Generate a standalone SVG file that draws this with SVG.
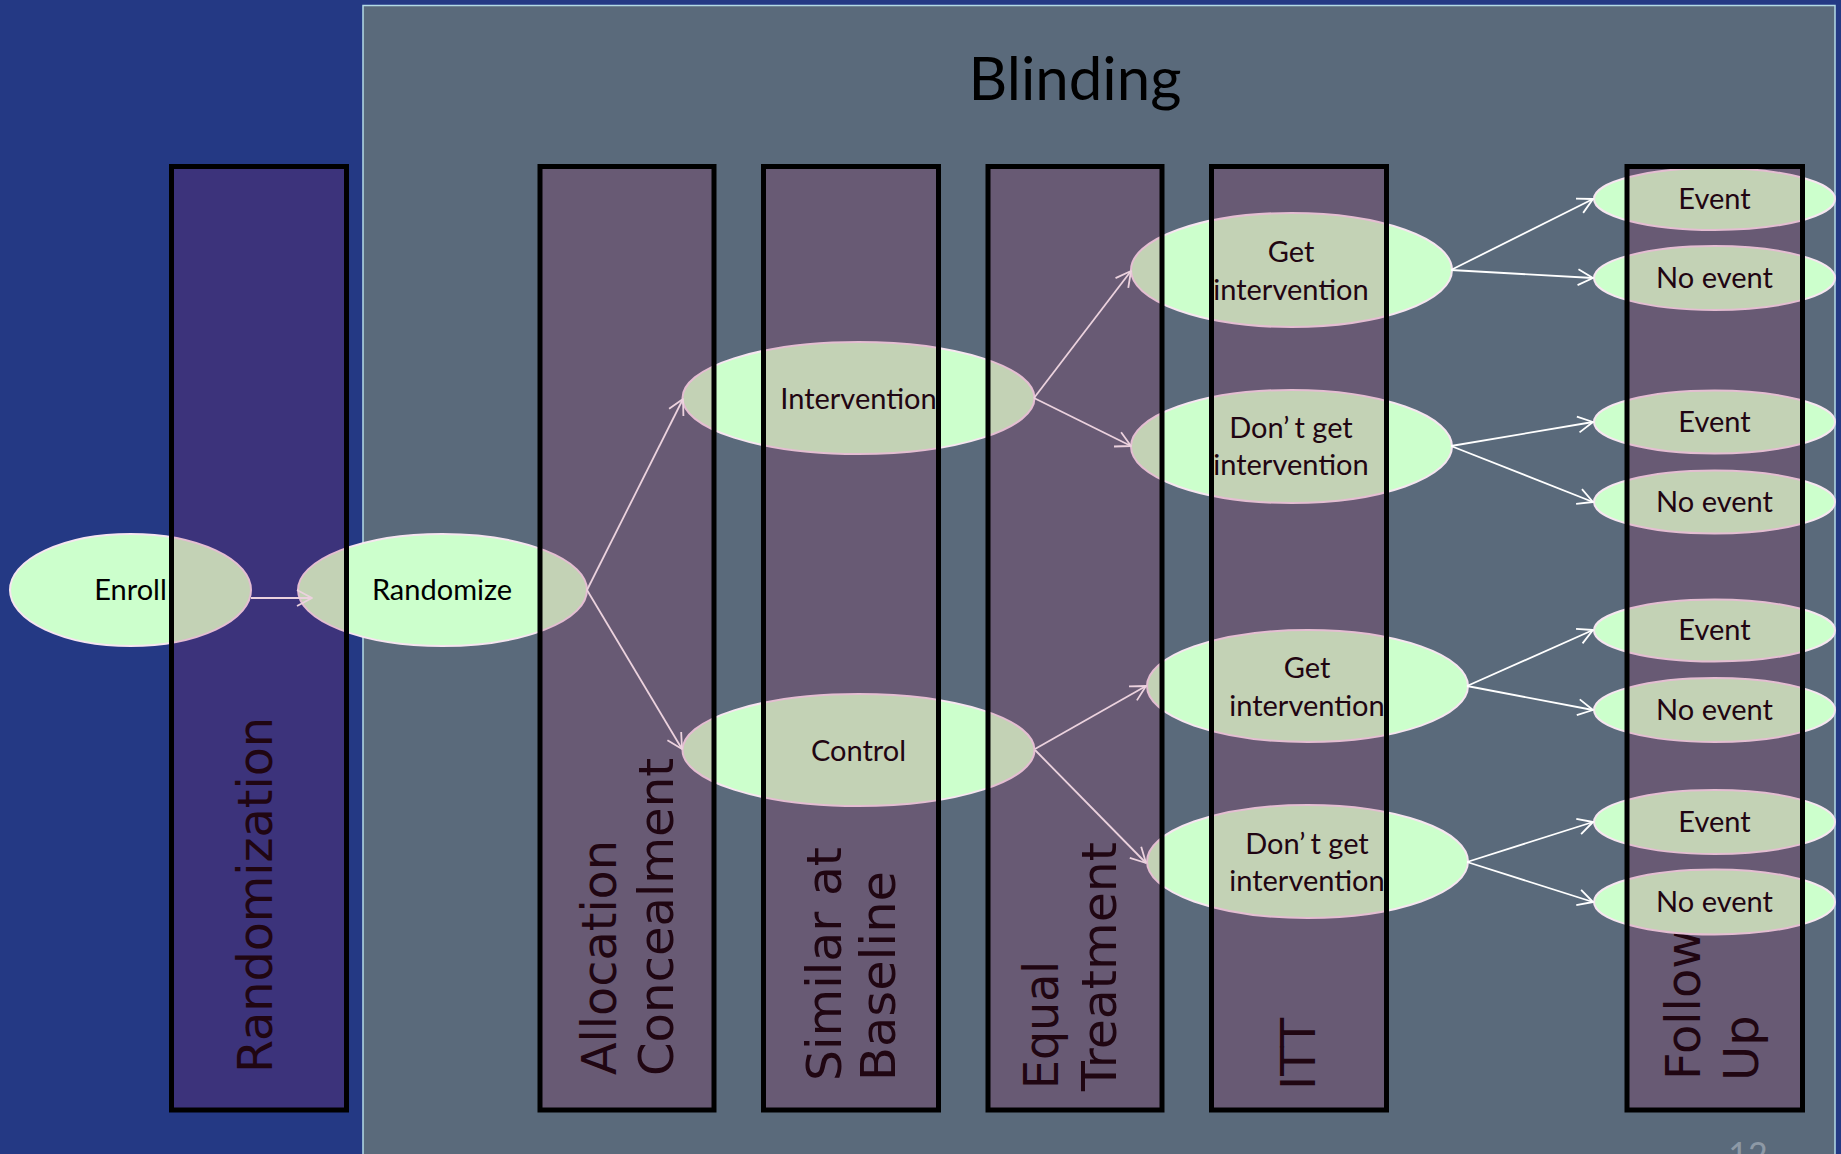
<svg xmlns="http://www.w3.org/2000/svg" width="1841" height="1154" viewBox="0 0 1841 1154">
  <defs>
    <style>
      .lbl { font-family: "DejaVu Sans", Verdana, sans-serif; font-size: 48px; fill: #000; }
      .node ellipse { fill: #ccffcc; stroke: #f6e6f0; stroke-width: 2; }
      .node text { font-family: Lato, "Open Sans", sans-serif; font-size: 29px; fill: #000; text-anchor: middle; }
      .frame { fill: #a11f5c; fill-opacity: 0.2; stroke: #000; stroke-width: 5; }
      .conn path { fill: none; stroke: #ffffff; stroke-width: 1.8; marker-end: url(#arr); }
    </style>
    <marker id="arr" viewBox="-18 -10 20 20" refX="0" refY="0" markerWidth="20" markerHeight="20" markerUnits="userSpaceOnUse" orient="auto">
      <path d="M-15,-8 L0,0 L-15,8" fill="none" stroke="#ffffff" stroke-width="1.8" stroke-linejoin="round"/>
    </marker>
  </defs>

  <rect x="0" y="0" width="1841" height="1154" fill="#243984"/>
  <rect id="blinding-panel" x="363" y="5.5" width="1472" height="1170" fill="#5a6a7b" stroke="#b4dbe6" stroke-width="1.5"/>
  <text id="title" x="1075" y="100" font-family="Lato, 'Open Sans', sans-serif" font-size="60" text-anchor="middle" fill="#000">Blinding</text>
  <text id="page-number" x="1748" y="1167" font-family="Lato, 'Open Sans', sans-serif" font-size="34" text-anchor="middle" fill="#8d99a6">12</text>

  <!-- stage labels (drawn beneath nodes) -->
  <g id="stage-randomization">
    <text class="lbl" transform="translate(272,1073) rotate(-90)" textLength="356" lengthAdjust="spacingAndGlyphs">Randomization</text>
  </g>
  <g id="stage-allocation">
    <text class="lbl" transform="translate(616,1075) rotate(-90)" textLength="235" lengthAdjust="spacingAndGlyphs">Allocation</text>
    <text class="lbl" transform="translate(673,1076) rotate(-90)" textLength="318" lengthAdjust="spacingAndGlyphs">Concealment</text>
  </g>
  <g id="stage-baseline">
    <text class="lbl" transform="translate(841,1081) rotate(-90)" textLength="234" lengthAdjust="spacingAndGlyphs">Similar at</text>
    <text class="lbl" transform="translate(895,1081) rotate(-90)" textLength="210" lengthAdjust="spacingAndGlyphs">Baseline</text>
  </g>
  <g id="stage-treatment">
    <text class="lbl" transform="translate(1058,1089) rotate(-90)" textLength="128" lengthAdjust="spacingAndGlyphs">Equal</text>
    <text class="lbl" transform="translate(1116,1091) rotate(-90)" textLength="249" lengthAdjust="spacingAndGlyphs">Treatment</text>
  </g>
  <g id="stage-itt">
    <text class="lbl" transform="translate(1315,1090) rotate(-90)">ITT</text>
  </g>
  <g id="stage-followup">
    <text class="lbl" transform="translate(1700,1080) rotate(-90)">Follow</text>
    <text class="lbl" transform="translate(1758,1081) rotate(-90)">Up</text>
  </g>

  <g id="enroll" class="node"><ellipse cx="130.5" cy="590" rx="120.5" ry="56"/><text x="130.5" y="600">Enroll</text></g>
  <g id="randomize" class="node"><ellipse cx="442.5" cy="590" rx="144.5" ry="56"/><text x="442" y="600">Randomize</text></g>
  <g id="intervention" class="node"><ellipse cx="858.5" cy="398" rx="176" ry="56"/><text x="858.5" y="409">Intervention</text></g>
  <g id="control" class="node"><ellipse cx="858.5" cy="750" rx="176" ry="56"/><text x="858.5" y="761">Control</text></g>

  <g id="get-int-1" class="node"><ellipse cx="1291.5" cy="270" rx="160.5" ry="57"/><text x="1291" y="262">Get</text><text x="1291" y="300">intervention</text></g>
  <g id="dont-get-1" class="node"><ellipse cx="1291.5" cy="446.5" rx="160.5" ry="56.5"/><text x="1291" y="438">Don’<tspan dx="5">t get</tspan></text><text x="1291" y="475">intervention</text></g>
  <g id="get-int-2" class="node"><ellipse cx="1307.5" cy="686" rx="160.5" ry="56"/><text x="1307" y="678">Get</text><text x="1307" y="716">intervention</text></g>
  <g id="dont-get-2" class="node"><ellipse cx="1307.5" cy="861.5" rx="160.5" ry="56.5"/><text x="1307" y="854">Don’<tspan dx="5">t get</tspan></text><text x="1307" y="891">intervention</text></g>

  <g id="event-1" class="node"><ellipse cx="1714.5" cy="199" rx="120.5" ry="31"/><text x="1714.5" y="208.5">Event</text></g>
  <g id="noevent-1" class="node"><ellipse cx="1714.5" cy="278" rx="120.5" ry="32"/><text x="1714.5" y="288">No event</text></g>
  <g id="event-2" class="node"><ellipse cx="1714.5" cy="422" rx="120.5" ry="31.5"/><text x="1714.5" y="431.5">Event</text></g>
  <g id="noevent-2" class="node"><ellipse cx="1714.5" cy="502" rx="120.5" ry="31.5"/><text x="1714.5" y="512">No event</text></g>
  <g id="event-3" class="node"><ellipse cx="1714.5" cy="630.5" rx="120.5" ry="31"/><text x="1714.5" y="640">Event</text></g>
  <g id="noevent-3" class="node"><ellipse cx="1714.5" cy="710" rx="120.5" ry="32"/><text x="1714.5" y="720">No event</text></g>
  <g id="event-4" class="node"><ellipse cx="1714.5" cy="822" rx="120.5" ry="32"/><text x="1714.5" y="831.5">Event</text></g>
  <g id="noevent-4" class="node"><ellipse cx="1714.5" cy="902" rx="120.5" ry="32.5"/><text x="1714.5" y="912">No event</text></g>

  <g id="connectors" class="conn">
    <path d="M251,598 L312,598"/>
    <path d="M587,590 L683,399"/>
    <path d="M587,590 L682,749"/>
    <path d="M1034,398 L1131,271"/>
    <path d="M1034,398 L1131,446"/>
    <path d="M1035,749 L1146,686"/>
    <path d="M1035,750 L1146,863"/>
    <path d="M1451,270 L1593,199"/>
    <path d="M1451,270 L1593,278"/>
    <path d="M1451,446 L1593,422"/>
    <path d="M1451,446 L1593,502"/>
    <path d="M1467,686 L1593,630"/>
    <path d="M1467,686 L1593,710"/>
    <path d="M1467,862 L1593,822"/>
    <path d="M1467,862 L1593,902"/>
  </g>

  <!-- translucent stage frames on top -->
  <g id="stage-frames">
    <rect class="frame" x="171.5" y="166.5" width="175" height="943.5"/>
    <rect class="frame" x="540" y="166.5" width="174" height="943.5"/>
    <rect class="frame" x="763.5" y="166.5" width="175" height="943.5"/>
    <rect class="frame" x="988" y="166.5" width="174" height="943.5"/>
    <rect class="frame" x="1211.5" y="166.5" width="175" height="943.5"/>
    <rect class="frame" x="1627" y="166.5" width="175.5" height="943.5"/>
  </g>
</svg>
